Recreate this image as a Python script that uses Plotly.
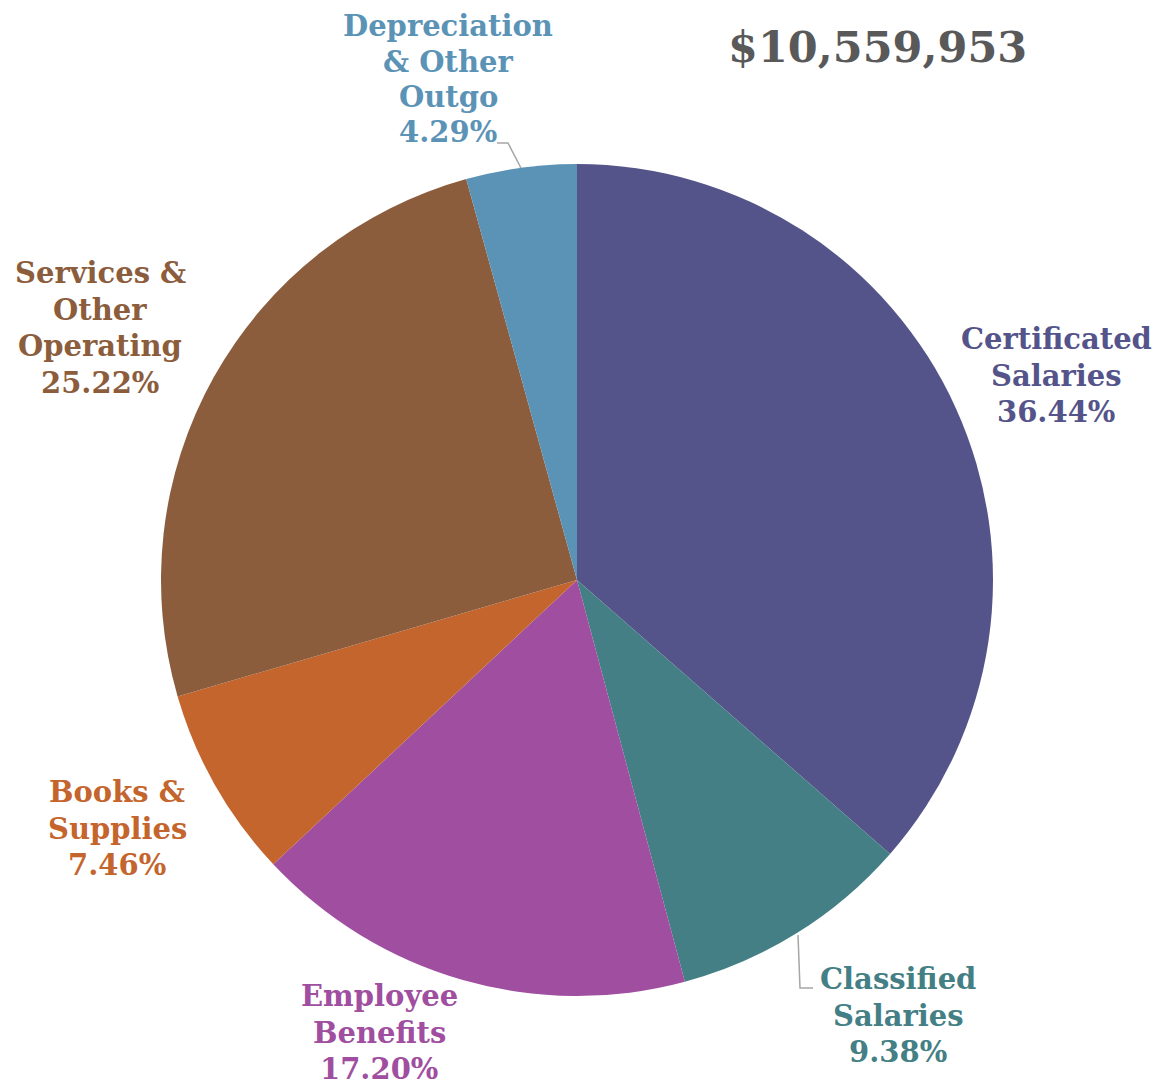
import plotly.graph_objects as go

categories = [
    "Certificated Salaries",
    "Classified Salaries",
    "Employee Benefits",
    "Books & Supplies",
    "Services & Other Operating",
    "Depreciation & Other Outgo",
]
percentages = [36.44, 9.38, 17.20, 7.46, 25.22, 4.29]
total_label = "$10,559,953"

colors = ["#54548A", "#437F84", "#A04EA0", "#C4652E", "#8B5D3D", "#5B93B6"]

# label text lines (split like the original), and centre of each label's first line in pixels
label_lines = [
    ["Certificated", "Salaries"],
    ["Classified", "Salaries"],
    ["Employee", "Benefits"],
    ["Books &", "Supplies"],
    ["Services &", "Other", "Operating"],
    ["Depreciation", "& Other", "Outgo"],
]
label_first_line = [(1056, 339), (898, 979), (379, 996), (117, 792), (100, 273), (448, 26)]
label_pitch = [36.7, 36.7, 36.7, 36.7, 36.7, 35.5]

W, H = 1170, 1084
OFF = 8  # page body margin
FONT = "Georgia, 'DejaVu Serif', serif"

cx, cy, r = 577, 580, 416


def fx(px):
    return (px - OFF) / W


def fy(py):
    return 1 - (py - OFF) / H


fig = go.Figure()
fig.add_trace(
    go.Pie(
        labels=categories,
        values=percentages,
        sort=False,
        direction="clockwise",
        rotation=0,
        marker=dict(colors=colors, line=dict(width=0)),
        textinfo="none",
        hovertemplate="%{label}: %{value:.2f}%<extra></extra>",
        domain=dict(x=[fx(cx - r), fx(cx + r)], y=[fy(cy + r), fy(cy - r)]),
        showlegend=False,
    )
)

annotations = []
for lines, pct, (px, py), pitch, color in zip(
    label_lines, percentages, label_first_line, label_pitch, colors
):
    for i, line in enumerate(lines + [f"{pct:.2f}%"]):
        annotations.append(
            dict(
                x=fx(px),
                y=fy(py + i * pitch),
                xref="paper",
                yref="paper",
                text=f"<b>{line}</b>",
                showarrow=False,
                xanchor="center",
                yanchor="middle",
                font=dict(family=FONT, size=29, color=color),
            )
        )

annotations.append(
    dict(
        x=fx(877),
        y=fy(47),
        xref="paper",
        yref="paper",
        text=f"<b>{total_label}</b>",
        showarrow=False,
        xanchor="center",
        yanchor="middle",
        font=dict(family=FONT, size=43, color="#595959"),
    )
)


def px_path(points):
    return "M " + " L ".join(f"{fx(x)},{fy(y)}" for x, y in points)


leaders = [
    [(497, 143), (508, 143), (521, 168)],
    [(798, 935), (800, 988), (813, 988)],
]
shapes = [
    dict(
        type="path",
        xref="paper",
        yref="paper",
        path=px_path(pts),
        line=dict(color="#A6A6A6", width=1.5),
    )
    for pts in leaders
]

fig.update_layout(
    width=W,
    height=H,
    margin=dict(l=0, r=0, t=0, b=0),
    paper_bgcolor="white",
    plot_bgcolor="white",
    annotations=annotations,
    shapes=shapes,
)

fig.write_html("out.html")
